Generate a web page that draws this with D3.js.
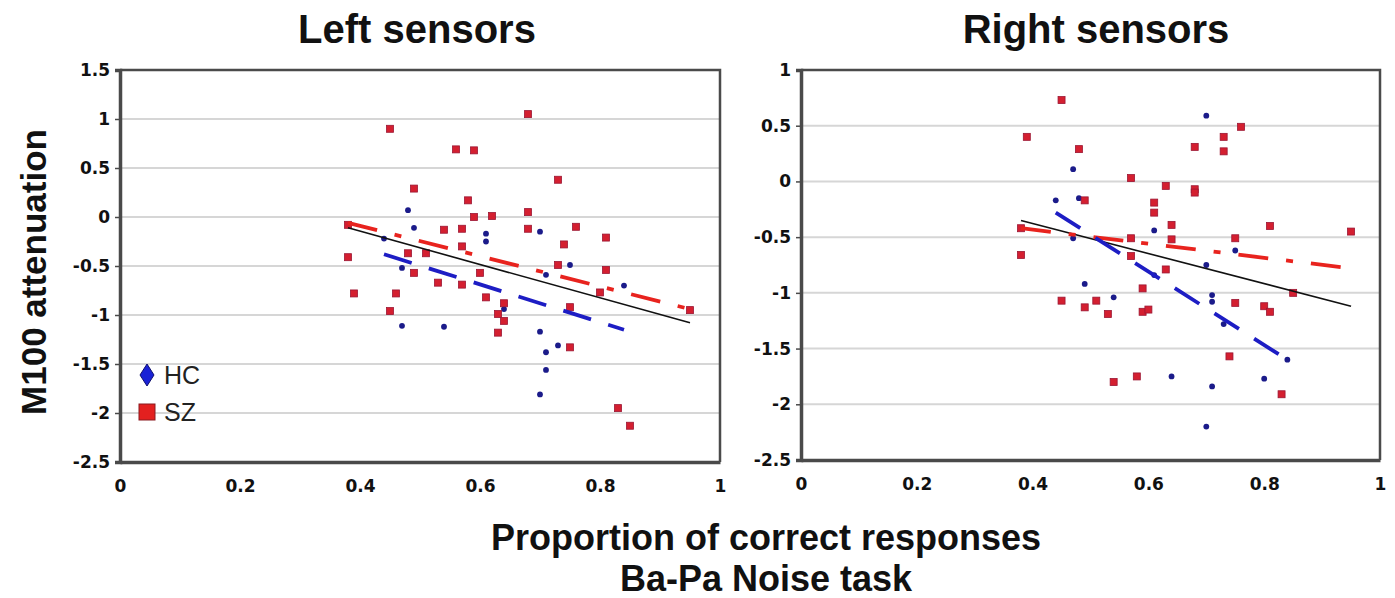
<!DOCTYPE html>
<html>
<head>
<meta charset="utf-8">
<script src="https://cdn.jsdelivr.net/npm/d3@7"></script>
<style>
	body { margin: 0; background: #fff; }
	svg { display: block; }
</style>
</head>
<body>
<div id="app"></div>
<script>
///////////////////////////////////////////////////////////////////////////
//////////////////////////// data /////////////////////////////////////////
///////////////////////////////////////////////////////////////////////////

// [proportion correct, M100 attenuation]
const leftHC = [
	[0.44, -0.22], [0.48, 0.07], [0.49, -0.11], [0.47, -0.52], [0.47, -1.11],
	[0.54, -1.12], [0.61, -0.17], [0.61, -0.25], [0.64, -0.94], [0.70, -0.15],
	[0.71, -0.59], [0.75, -0.49], [0.84, -0.70], [0.70, -1.17], [0.73, -1.31],
	[0.71, -1.38], [0.71, -1.56], [0.70, -1.81]
];
const leftSZ = [
	[0.45, 0.90], [0.56, 0.69], [0.59, 0.68], [0.68, 1.05], [0.49, 0.29],
	[0.58, 0.17], [0.59, 0.00], [0.62, 0.01], [0.68, 0.05], [0.38, -0.08],
	[0.54, -0.13], [0.57, -0.12], [0.68, -0.12], [0.57, -0.30], [0.48, -0.37],
	[0.51, -0.37], [0.38, -0.41], [0.49, -0.57], [0.60, -0.57], [0.53, -0.67],
	[0.57, -0.69], [0.39, -0.78], [0.46, -0.78], [0.61, -0.82], [0.64, -0.88],
	[0.63, -0.99], [0.45, -0.96], [0.64, -1.06], [0.63, -1.18], [0.73, 0.38],
	[0.76, -0.10], [0.81, -0.21], [0.74, -0.28], [0.73, -0.49], [0.81, -0.54],
	[0.80, -0.77], [0.75, -0.92], [0.95, -0.95], [0.75, -1.33], [0.83, -1.95],
	[0.85, -2.13]
];
const rightHC = [
	[0.47, 0.11], [0.44, -0.17], [0.48, -0.15], [0.47, -0.51], [0.61, -0.44],
	[0.61, -0.84], [0.49, -0.92], [0.54, -1.04], [0.64, -1.75], [0.70, 0.59],
	[0.75, -0.62], [0.70, -0.75], [0.71, -1.02], [0.71, -1.08], [0.73, -1.28],
	[0.84, -1.60], [0.71, -1.84], [0.80, -1.77], [0.70, -2.20]
];
const rightSZ = [
	[0.45, 0.73], [0.39, 0.40], [0.48, 0.29], [0.57, 0.03], [0.63, -0.04],
	[0.49, -0.17], [0.61, -0.19], [0.61, -0.28], [0.64, -0.39], [0.38, -0.42],
	[0.57, -0.51], [0.64, -0.52], [0.38, -0.66], [0.57, -0.67], [0.63, -0.79],
	[0.59, -0.96], [0.45, -1.07], [0.51, -1.07], [0.49, -1.13], [0.53, -1.19],
	[0.59, -1.17], [0.60, -1.15], [0.54, -1.80], [0.58, -1.75], [0.76, 0.49],
	[0.73, 0.40], [0.68, 0.31], [0.73, 0.27], [0.68, -0.07], [0.68, -0.10],
	[0.81, -0.40], [0.95, -0.45], [0.75, -0.51], [0.85, -1.00], [0.75, -1.09],
	[0.80, -1.12], [0.81, -1.17], [0.74, -1.57], [0.83, -1.91]
];

// fitted lines, end points
const leftFitAll = [[0.38, -0.11], [0.95, -1.08]];
const leftFitSZ = [[0.38, -0.06], [0.95, -0.94]];
const leftFitHC = [[0.44, -0.38], [0.84, -1.15]];
const rightFitAll = [[0.38, -0.35], [0.95, -1.12]];
const rightFitSZ = [[0.38, -0.42], [0.95, -0.78]];
const rightFitHC = [[0.44, -0.28], [0.84, -1.60]];

const xTicks = [0, 0.2, 0.4, 0.6, 0.8, 1];
const leftYTicks = [1.5, 1, 0.5, 0, -0.5, -1, -1.5, -2, -2.5];
const rightYTicks = [1, 0.5, 0, -0.5, -1, -1.5, -2, -2.5];

///////////////////////////////////////////////////////////////////////////
//////////////////////////// set up svg ///////////////////////////////////
///////////////////////////////////////////////////////////////////////////

const width = 1395;
const height = 598;

const svg = d3
	.select("#app")
	.append("svg")
	.attr("width", width)
	.attr("height", height);

const fmt = (d) => String(+d.toFixed(1));

///////////////////////////////////////////////////////////////////////////
//////////////////////////// panel ////////////////////////////////////////
///////////////////////////////////////////////////////////////////////////

const drawPanel = (p) => {
	const xScale = d3.scaleLinear().domain([0, 1]).range(p.xRange);
	const yScale = d3.scaleLinear().domain(p.yDomain).range(p.yRange);

	const g = svg.append("g");
	const [x0, x1] = p.xRange;
	const [y0, y1] = p.yRange;

	// gridlines
	g.append("g")
		.selectAll("line")
		.data(p.yTicks)
		.join("line")
		.attr("x1", x0)
		.attr("x2", x1)
		.attr("y1", (d) => yScale(d))
		.attr("y2", (d) => yScale(d))
		.attr("stroke", "#d6d6d6")
		.attr("stroke-width", 2);

	// box (top / right)
	g.append("path")
		.attr("d", `M${x0},${y1}H${x1}V${y0}`)
		.attr("fill", "none")
		.attr("stroke", "#4a4a4a")
		.attr("stroke-width", 2.5);

	// axes
	const yAxis = g
		.append("g")
		.attr("transform", `translate(${x0},0)`)
		.call(d3.axisLeft(yScale).tickValues(p.yTicks).tickFormat(fmt).tickSize(5).tickPadding(5));
	const xAxis = g
		.append("g")
		.attr("transform", `translate(0,${y0})`)
		.call(d3.axisBottom(xScale).tickValues(xTicks).tickFormat(fmt).tickSize(0).tickPadding(18));

	[yAxis, xAxis].forEach((a) => {
		a.attr("font-size", 17)
			.attr("font-family", "DejaVu Sans, Verdana, sans-serif")
			.attr("font-weight", "bold");
		a.select(".domain").attr("stroke", "#4a4a4a").attr("stroke-width", 3.5);
		a.selectAll(".tick line").attr("stroke", "#4a4a4a").attr("stroke-width", 1.5);
		a.selectAll("text").attr("fill", "#111").attr("font-size", 17);
	});

	// points
	g.append("g")
		.selectAll("circle")
		.data(p.hc)
		.join("circle")
		.attr("cx", (d) => xScale(d[0]))
		.attr("cy", (d) => yScale(d[1]))
		.attr("r", 2.9)
		.attr("fill", "#1b1b8a");

	g.append("g")
		.selectAll("rect")
		.data(p.sz)
		.join("rect")
		.attr("x", (d) => xScale(d[0]) - 3.5)
		.attr("y", (d) => yScale(d[1]) - 3.5)
		.attr("width", 7)
		.attr("height", 7)
		.attr("fill", "#d41f30")
		.attr("stroke", "#9b1633")
		.attr("stroke-width", 0.8);

	// fit lines
	const line = d3.line().x((d) => xScale(d[0])).y((d) => yScale(d[1]));

	g.append("path")
		.attr("d", line(p.fitAll))
		.attr("fill", "none")
		.attr("stroke", "#111")
		.attr("stroke-width", 1.6);

	g.append("path")
		.attr("d", line(p.fitSZ))
		.attr("fill", "none")
		.attr("stroke", "#e8231e")
		.attr("stroke-width", 3.8)
		.attr("stroke-dasharray", "30,18,7,18");

	g.append("path")
		.attr("d", line(p.fitHC))
		.attr("fill", "none")
		.attr("stroke", "#1d1dc4")
		.attr("stroke-width", 3.8)
		.attr("stroke-dasharray", "29,18");

	// title
	svg.append("text")
		.attr("x", p.titleX)
		.attr("y", 43)
		.attr("text-anchor", "middle")
		.style("font", "bold 40px 'Liberation Sans', Arial, sans-serif")
		.attr("fill", "#111")
		.text(p.title);
};

drawPanel({
	title: "Left sensors",
	titleX: 417,
	xRange: [120, 720],
	yDomain: [-2.5, 1.5],
	yRange: [462, 70],
	yTicks: leftYTicks,
	hc: leftHC,
	sz: leftSZ,
	fitAll: leftFitAll,
	fitSZ: leftFitSZ,
	fitHC: leftFitHC
});

drawPanel({
	title: "Right sensors",
	titleX: 1096,
	xRange: [801, 1380],
	yDomain: [-2.5, 1],
	yRange: [460, 70],
	yTicks: rightYTicks,
	hc: rightHC,
	sz: rightSZ,
	fitAll: rightFitAll,
	fitSZ: rightFitSZ,
	fitHC: rightFitHC
});

//////////////////////////// legend ///////////////////////////////////////

const legend = svg.append("g").attr("transform", "translate(147,0)");

legend.append("path")
	.attr("d", "M0,-11L7,0L0,11L-7,0Z")
	.attr("transform", "translate(0,375)")
	.attr("fill", "#1a22d6")
	.attr("stroke", "#101070")
	.attr("stroke-width", 1);

legend.append("rect")
	.attr("x", -8)
	.attr("y", 404)
	.attr("width", 16)
	.attr("height", 16)
	.attr("fill", "#e3201f")
	.attr("stroke", "#8a1a20")
	.attr("stroke-width", 1);

legend.selectAll("text")
	.data([["HC", 384], ["SZ", 421]])
	.join("text")
	.attr("x", 17)
	.attr("y", (d) => d[1])
	.style("font", "25px 'Liberation Sans', Arial, sans-serif")
	.attr("fill", "#222")
	.text((d) => d[0]);

//////////////////////////// axis titles //////////////////////////////////

svg.append("text")
	.attr("transform", "translate(46,272) rotate(-90)")
	.attr("text-anchor", "middle")
	.style("font", "bold 35px 'Liberation Sans', Arial, sans-serif")
	.attr("fill", "#111")
	.text("M100 attenuation");

svg.selectAll(".xtitle")
	.data([["Proportion of correct responses", 550], ["Ba-Pa Noise task", 591]])
	.join("text")
	.attr("class", "xtitle")
	.attr("x", 766)
	.attr("y", (d) => d[1])
	.attr("text-anchor", "middle")
	.style("font", "bold 36px 'Liberation Sans', Arial, sans-serif")
	.attr("fill", "#111")
	.text((d) => d[0]);
</script>
</body>
</html>
